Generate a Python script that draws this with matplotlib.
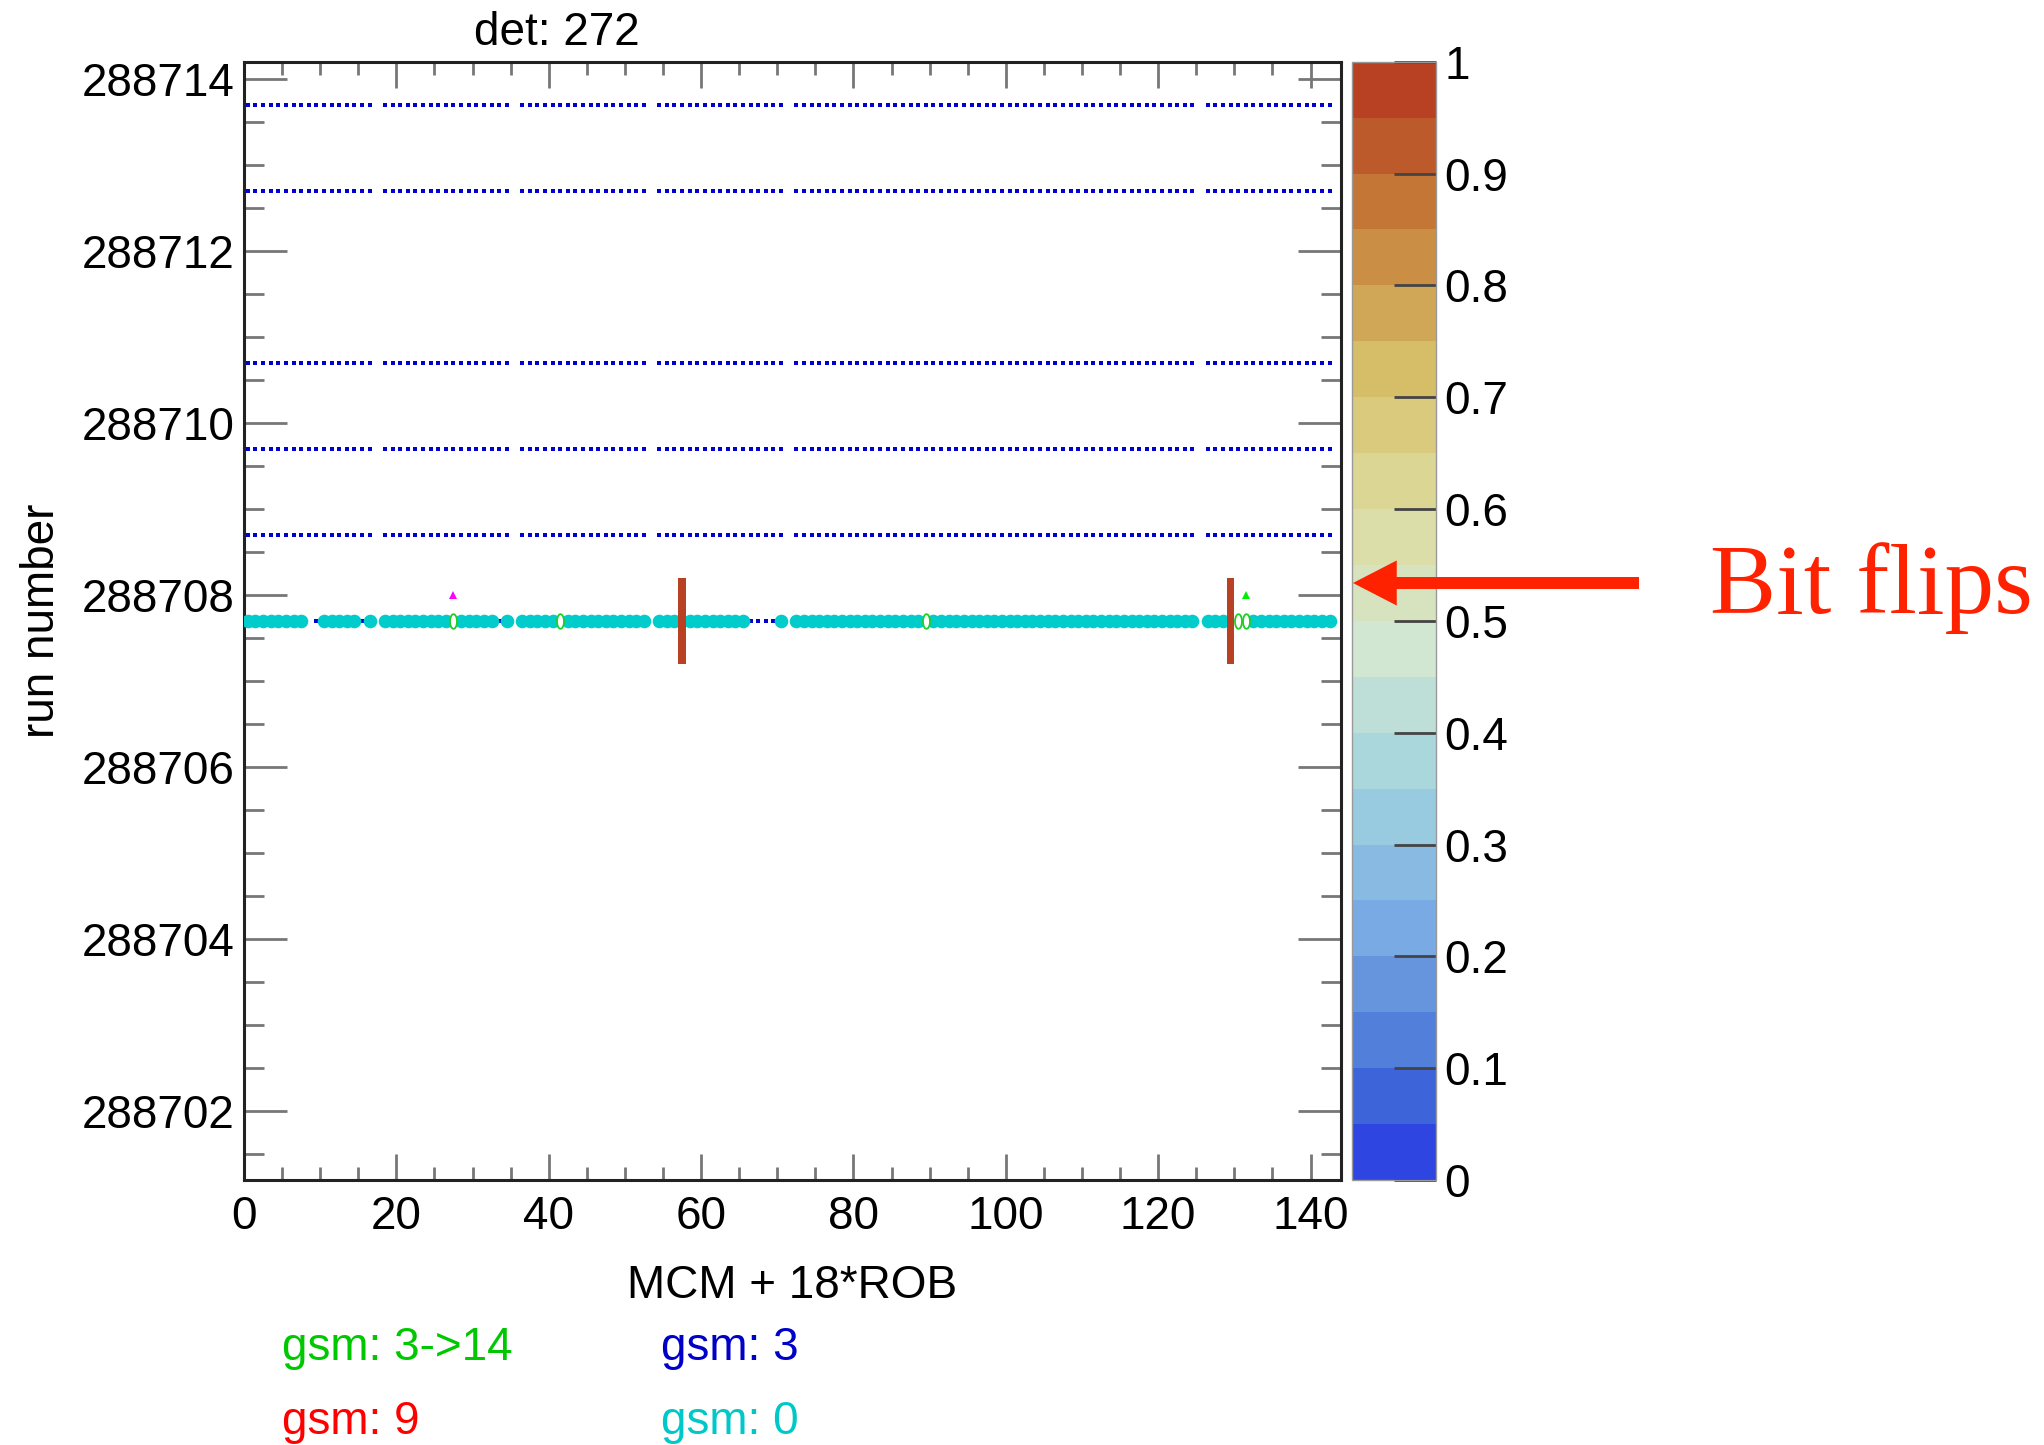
import numpy as np
import matplotlib
matplotlib.use('Agg')
import matplotlib.pyplot as plt
from matplotlib.colors import LinearSegmentedColormap, ListedColormap, BoundaryNorm
from matplotlib.path import Path
from matplotlib.ticker import MultipleLocator, FuncFormatter
import matplotlib.cm as cm

plt.rcParams['font.family'] = ['Liberation Sans', 'DejaVu Sans']

# ---------------- data ----------------
n_mcm = 144
run_first, run_last = 288702, 288714
runs_gsm3 = [288714, 288713, 288711, 288710, 288709]
missing_mcm = [17, 35, 53, 71, 125, 143]
run_flip = 288708
gsm0_mcm = [*range(0, 8), *range(10, 15), 16, *range(18, 27), *range(28, 33), 34,
            *range(36, 41), *range(42, 53), *range(54, 57), *range(58, 66), 70,
            *range(72, 89), *range(90, 125), *range(126, 129), *range(132, 143)]
gsm3_mcm_flip_run = [9, 15, 33, 66, 67, 68, 69]
gsm3to14_mcm = [27, 41, 89, 130, 131]
tri_magenta_mcm = [27]
tri_green_mcm = [131]
frac_mcm = [57, 129]
frac_run = [288708, 288708]
frac_value = [1.0, 1.0]
cbar_ticks = [0, 0.1, 0.2, 0.3, 0.4, 0.5, 0.6, 0.7, 0.8, 0.9, 1.0]
legend_items = [("gsm: 3->14", '#00c800'), ("gsm: 3", '#0000c8'),
                ("gsm: 9", '#ff0000'), ("gsm: 0", '#00c8c8')]

# ROOT kLightTemperature palette stops
pal_r = [31, 71, 123, 160, 210, 222, 214, 199, 183]
pal_g = [40, 117, 171, 211, 231, 220, 190, 132, 65]
pal_b = [234, 214, 228, 222, 210, 160, 105, 60, 34]

# ---------------- style constants ----------------
BIN_SHIFT = 0.8      # y bin low edge = run - BIN_SHIFT
W, H = 2044, 1445
FS = 33

fig = plt.figure(figsize=(W / 100, H / 100), dpi=100)
ax = fig.add_axes([244 / W, 1 - 1180 / H, (1341 - 244) / W, (1180 - 61.7) / H])
cax = fig.add_axes([1352 / W, 1 - 1180 / H, (1435.5 - 1352) / W, (1180 - 61.7) / H])

# palette
stops = np.linspace(0, 1, len(pal_r))
base = LinearSegmentedColormap.from_list(
    'lighttemp', [(s, (r / 255, g / 255, b / 255)) for s, r, g, b in zip(stops, pal_r, pal_g, pal_b)])
ncont = 20
cmap20 = ListedColormap([base((i + 0.99) / ncont) for i in range(ncont)])
norm = BoundaryNorm(np.linspace(0, 1, ncont + 1), ncont)

# 2D histogram (bit flip fraction)
x_edges = np.arange(0, n_mcm + 1)
y_edges = np.arange(run_first, run_last + 2) - BIN_SHIFT
Z = np.full((len(y_edges) - 1, n_mcm), np.nan)
for m, r, v in zip(frac_mcm, frac_run, frac_value):
    Z[r - run_first, m] = v
ax.pcolormesh(x_edges, y_edges, np.ma.masked_invalid(Z), cmap=cmap20, norm=norm, zorder=4)

def xc(m):
    return np.asarray(m) + 0.5

def yc(r):
    return np.asarray(r) - BIN_SHIFT + 0.5

# gsm 3 rows (blue small squares)
all_mcm = np.arange(n_mcm)
present = np.array([m for m in all_mcm if m not in missing_mcm])
for r in runs_gsm3:
    ax.plot(xc(present), np.full(len(present), yc(r)), ls='none', marker='s', ms=2.5,
            mfc='#0000d0', mec='#0000d0', mew=0, zorder=2)
ax.plot(xc(gsm3_mcm_flip_run), np.full(len(gsm3_mcm_flip_run), yc(run_flip)), ls='none',
        marker='s', ms=2.5, mfc='#0000d0', mec='#0000d0', mew=0, zorder=2)

# gsm 0 (cyan)
ax.plot(xc(gsm0_mcm), np.full(len(gsm0_mcm), yc(run_flip)), ls='none', marker='o', ms=9.8,
        mfc='#00cccc', mec='#00cccc', mew=0, zorder=3)

# gsm 3->14 (green open narrow rings)
t = np.linspace(0, 2 * np.pi, 61)
ell = Path(np.column_stack([0.24 * np.cos(t), 0.5 * np.sin(t)]), closed=True)
ax.plot(xc(gsm3to14_mcm), np.full(len(gsm3to14_mcm), yc(run_flip)), ls='none', marker=ell,
        ms=10.5, mfc='white', mec='#22cc22', mew=1.3, zorder=3.5)

# triangles
tri_off = 0.3
ax.plot(xc(tri_magenta_mcm), np.full(len(tri_magenta_mcm), yc(run_flip) + tri_off), ls='none',
        marker='^', ms=6, mfc='#ff00ff', mec='#ff00ff', mew=0, zorder=5)
ax.plot(xc(tri_green_mcm), np.full(len(tri_green_mcm), yc(run_flip) + tri_off), ls='none',
        marker='^', ms=6, mfc='#00ee00', mec='#00ee00', mew=0, zorder=5)

# axes
ax.set_xlim(0, n_mcm)
ax.set_ylim(y_edges[0], y_edges[-1])
ax.xaxis.set_major_locator(MultipleLocator(20))
ax.xaxis.set_minor_locator(MultipleLocator(5))
ax.yaxis.set_major_locator(MultipleLocator(2))
ax.yaxis.set_minor_locator(MultipleLocator(0.5))
ax.yaxis.set_major_formatter(FuncFormatter(lambda v, p: f"{int(round(v))}"))
ax.xaxis.set_major_formatter(FuncFormatter(lambda v, p: f"{int(round(v))}"))
for s in ax.spines.values():
    s.set_linewidth(2.2)
    s.set_color('#222222')
ax.tick_params(axis='both', which='both', direction='in', top=True, right=True,
               color='#777777', width=2, labelsize=FS)
ax.tick_params(axis='y', which='major', length=31, pad=6.8)
ax.tick_params(axis='y', which='minor', length=14.4)
ax.tick_params(axis='x', which='major', length=18.7, pad=10.5)
ax.tick_params(axis='x', which='minor', length=9.4)

# colorbar
cb = fig.colorbar(cm.ScalarMappable(norm=norm, cmap=cmap20), cax=cax, ticks=cbar_ticks)
cb.ax.yaxis.set_major_formatter(FuncFormatter(lambda v, p: f"{round(v, 2):g}"))
cb.ax.minorticks_off()
cb.ax.tick_params(direction='in', length=30, width=2, color='#444444', right=True,
                  left=False, labelsize=FS, pad=6.5)
cb.outline.set_linewidth(1.0)
cb.outline.set_edgecolor('#999999')

# texts
fig.text(556.6 / W, 1 - 45 / H, "det: 272", ha='center', va='baseline', fontsize=FS)
fig.text(792 / W, 1 - 1298 / H, "MCM + 18*ROB", ha='center', va='baseline', fontsize=FS)
fig.text(64 / W, 1 - 621 / H, "run number", ha='right', va='center', rotation=90, fontsize=FS)

leg_pos = [(281.6, 1360), (661, 1360), (281.6, 1434), (661, 1434)]
for (txt, col), (px, py) in zip(legend_items, leg_pos):
    fig.text(px / W, 1 - py / H, txt, color=col, ha='left', va='baseline', fontsize=FS)

# annotation (drawn with the colorbar axes so it sits on top of it)
arrow = cax.annotate('', xy=(1353, H - 583), xycoords='figure pixels',
                     xytext=(1639, H - 583), textcoords='figure pixels', annotation_clip=False,
                     arrowprops=dict(arrowstyle='simple,head_length=3.15,head_width=3.25,tail_width=0.86',
                                     mutation_scale=10, color='#ff2200', shrinkA=0, shrinkB=0, lw=0))
arrow.set_zorder(10)
arrow.set_clip_on(False)
fig.text(1710 / W, 1 - 613 / H, "Bit flips", color='#ff2200', ha='left', va='baseline',
         fontsize=71.5, family=['Liberation Serif', 'DejaVu Serif'])

fig.savefig('out.png', dpi=100)
